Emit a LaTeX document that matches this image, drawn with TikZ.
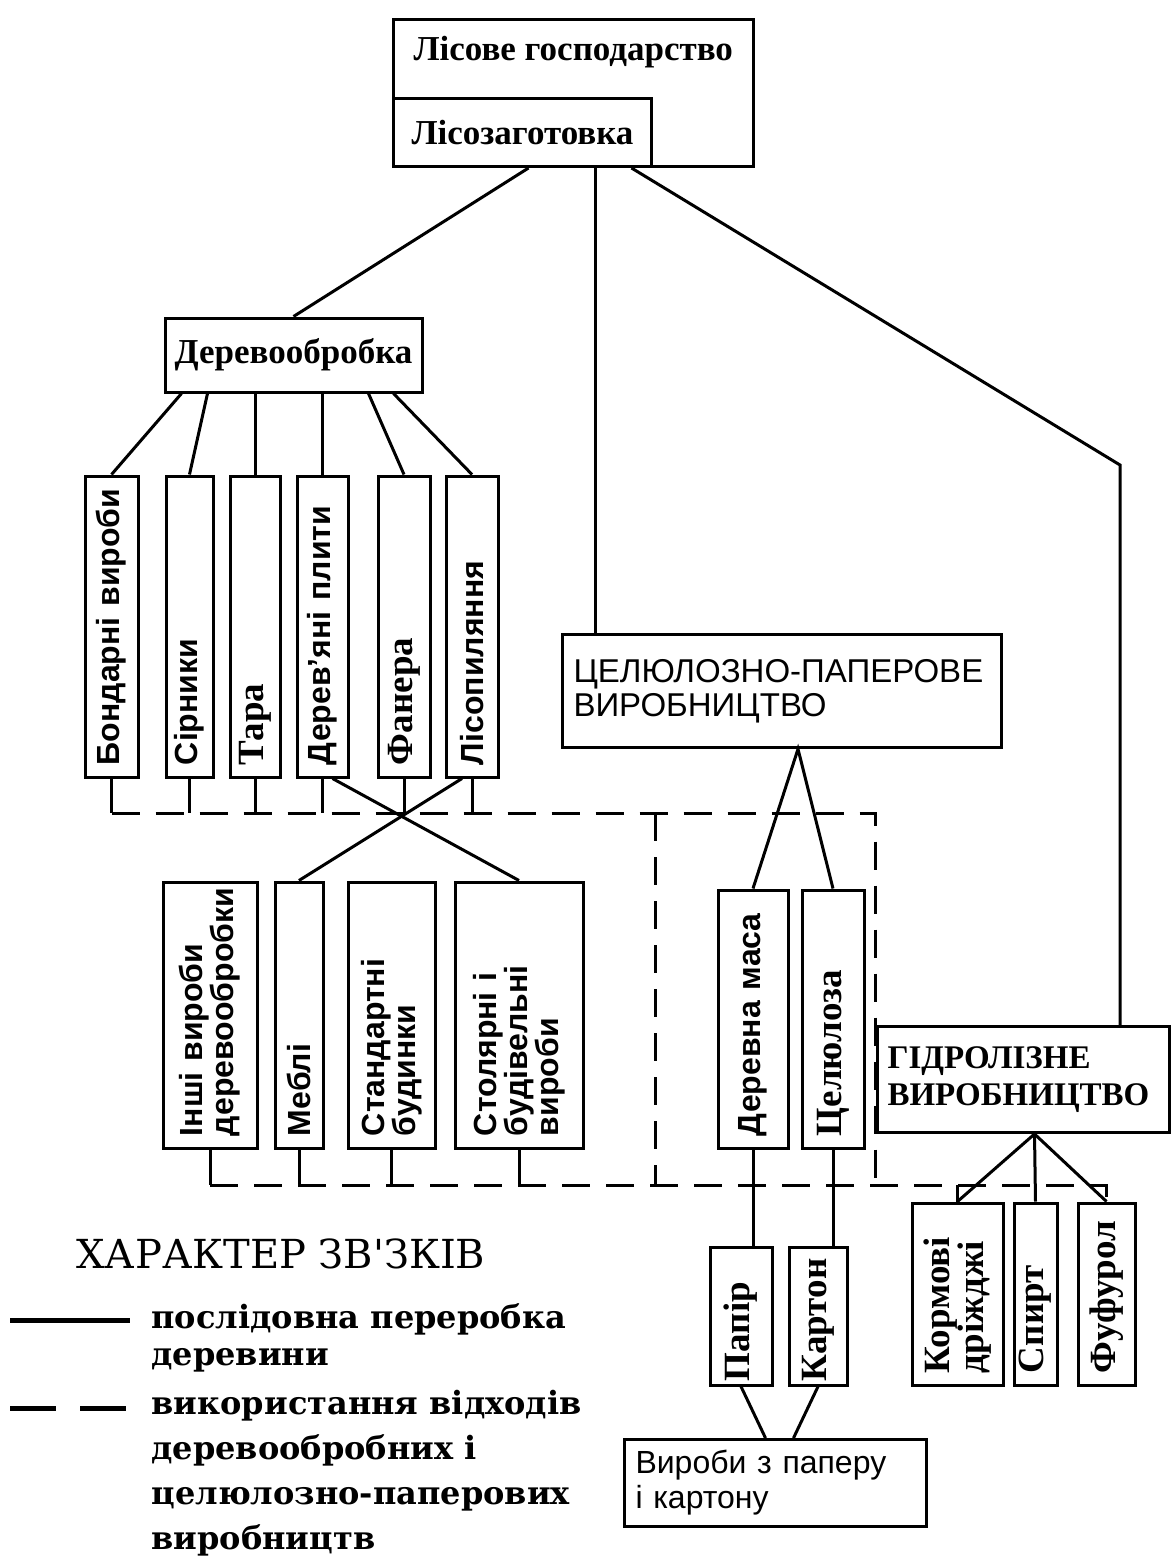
\documentclass[tikz,border=0pt]{standalone}
\usepackage{fontspec}
\setmainfont{Liberation Serif}
\newfontfamily\arialfont{Liberation Sans}
\newfontfamily\dejafont{DejaVu Serif}
\usetikzlibrary{calc}

\newcommand\lblfont{\bfseries\fontsize{35}{37}\selectfont}
\newcommand\vsansfont{\arialfont\bfseries\fontsize{32}{27}\selectfont}
\newcommand\vseriffont{\bfseries\fontsize{37}{28}\selectfont}
\newcommand\cpfont{\arialfont\fontsize{33}{34}\selectfont}
\newcommand\gpfont{\bfseries\fontsize{33}{37}\selectfont}
\newcommand\vyrfont{\arialfont\fontsize{32}{35}\selectfont}
\newcommand\titlefont{\dejafont\fontsize{40}{42}\selectfont}
\newcommand\legfont{\dejafont\bfseries\fontsize{32}{45}\selectfont}

\begin{document}
\begin{tikzpicture}[x=1pt,y=-1pt,line width=3pt,
  box/.style={draw,inner sep=0pt},
  vbox/.style 2 args={box,rotate=90,text width=#1,minimum height=#2,inner xsep=12pt,align=left},
  waste/.style={dash pattern=on 28pt off 16pt}]
\useasboundingbox (0,0) rectangle (1172,1560);

% top
\node[box,anchor=north west,minimum width=360,minimum height=147] (lg) at (392,18) {};
\node[font=\lblfont,anchor=west,inner sep=0pt] (lgname) at (412,52) {Лісове господарство};
\node[box,anchor=south west,minimum width=258,minimum height=68,font=\lblfont] (lz) at (lg.south west) {Лісозаготовка};

% wood working
\node[box,minimum width=257,minimum height=74,font=\lblfont] (derevo) at (293.5,355) {Деревообробка};

\node[vbox={277}{53},font=\vsansfont] (bond) at (111.5,626.5) {Бондарні вироби};
\node[vbox={277}{47},font=\vsansfont] (sirn) at (189.5,626.5) {Сірники};
\node[vbox={277}{50},font=\vseriffont] (tara) at (255,626.5) {Тара};
\node[vbox={277}{51},font=\vsansfont] (plyt) at (322.5,626.5) {Дерев’яні плити};
\node[vbox={277}{52},font=\vseriffont] (fan) at (404,626.5) {Фанера};
\node[vbox={277}{52},font=\vsansfont] (lis) at (472,626.5) {Лісопиляння};

\node[vbox={242}{94},font=\vsansfont] (insh) at (210,1015) {Інші вироби\\деревообробки};
\node[vbox={242}{48},font=\vsansfont] (mebl) at (299,1015) {Меблі};
\node[vbox={242}{87},font=\vsansfont] (stand) at (391.5,1015) {Стандартні\\будинки};
\node[vbox={242}{128},font=\vsansfont] (stol) at (519,1015) {Столярні і\\будівельні\\вироби};

% pulp and paper
\node[box,anchor=north west,minimum width=439,minimum height=113,text width=417,inner xsep=11pt,align=left,font=\cpfont] (cp) at (561,633) {ЦЕЛЮЛОЗНО-ПАПЕРОВЕ\\ВИРОБНИЦТВО};
\node[vbox={234}{70},font=\vsansfont] (dm) at (753,1019) {Деревна маса};
\node[vbox={234}{62},font=\vseriffont] (cel) at (833,1019) {Целюлоза};
\node[vbox={130}{62},inner xsep=4pt,font=\vseriffont] (pap) at (741,1316) {Папір};
\node[vbox={130}{58},inner xsep=4pt,font=\vseriffont] (kar) at (818,1316) {Картон};
\node[box,anchor=north west,minimum width=302,minimum height=87,text width=280,inner xsep=11pt,align=left,font=\vyrfont] (vyr) at (623,1438) {Вироби з паперу\\і картону};

% hydrolysis
\node[box,anchor=north west,minimum width=292,minimum height=106,text width=272,inner xsep=10pt,align=left,font=\gpfont] (gp) at (876,1025) {ГІДРОЛІЗНЕ\\ВИРОБНИЦТВО};
\node[vbox={158}{91},font=\vseriffont] (korm) at (957.5,1294) {Кормові\\дріжджі};
\node[vbox={158}{43},font=\vseriffont] (spyrt) at (1035.5,1294) {Спирт};
\node[vbox={158}{57},font=\vseriffont] (fuf) at (1106.5,1294) {Фуфурол};

% links from the top
\coordinate (cpin) at ($(cp.north west)+(34,0)$);
\coordinate (gpbend) at (1120,465);
\draw ($(lz.south)+(6,0)$) -- (derevo.north);
\draw (cpin) -- (cpin |- lg.south);
\draw ($(lg.south)+(58,0)$) -- (gpbend) -- (gpbend |- gp.north);

\foreach \b/\dx in {bond/-112,sirn/-86,fan/75,lis/100}
  \draw ($(derevo.south)+(\dx,0)$) -- (\b.east);
\foreach \b in {tara,plyt}
  \draw (\b.east |- derevo.south) -- (\b.east);

% waste lines
\coordinate (wtr) at (875,813);
\coordinate (wmid) at (655,813);
\coordinate (wbl) at (210,1185);
\foreach \b in {bond,sirn,tara,plyt,fan,lis}
  \draw (\b.west) -- (\b.west |- wtr);
\foreach \b in {insh,mebl,stand,stol}
  \draw (\b.west) -- (\b.west |- wbl);
\draw[waste] (bond.west |- wtr) -- (wtr) -- (wtr |- wbl);
\draw[waste] (wmid) -- (wmid |- wbl);
\draw[waste] (insh.west |- wbl) -- (fuf.east |- wbl) -- (fuf.east);

\draw ($(plyt.west)+(10,0)$) -- (stol.east);
\draw ($(lis.west)+(-10,0)$) -- (mebl.east);

\draw (dm.east) -- ($(cp.south)+(16,0)$) -- (cel.east);
\draw (dm.west) -- (dm.west |- pap.east);
\draw (cel.west) -- (cel.west |- kar.east);
\draw (pap.west) -- ($(vyr.north)+(-10,0)$);
\draw (kar.west) -- ($(vyr.north)+(18,0)$);

\foreach \b in {korm,spyrt,fuf}
  \draw ($(gp.south)+(11,0)$) -- (\b.east);
\draw (korm.east) -- (korm.east |- wbl);

% legend
\node[anchor=base west,inner sep=0pt,font=\titlefont] (legtitle) at (75,1268) {ХАРАКТЕР ЗВ'ЗКІВ};
\coordinate (ksa) at (10,1320);
\coordinate (ksb) at (130,1320);
\draw[line width=5pt] (ksa) -- (ksb);
\node[anchor=north west,inner sep=0pt,align=left,font=\legfont\fontsize{32}{37}\selectfont] (legsolid) at (150,1302) {послідовна переробка\\деревини};
\coordinate (kda) at (10,1408);
\coordinate (kdb) at (130,1408);
\draw[line width=5pt,dash pattern=on 46pt off 24pt] (kda) -- (kdb);
\node[anchor=north west,inner sep=0pt,align=left,font=\legfont] (legwaste) at (150,1389) {використання відходів\\деревообробних і\\целюлозно-паперових\\виробництв};
\end{tikzpicture}
\end{document}
